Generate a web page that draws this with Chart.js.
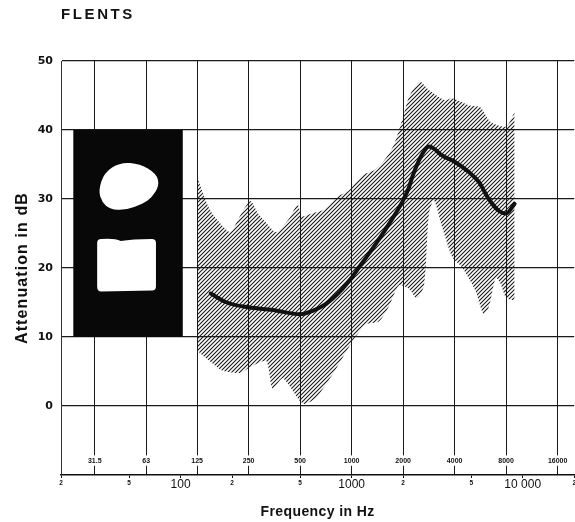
<!DOCTYPE html>
<html>
<head>
<meta charset="utf-8">
<script src="https://cdn.jsdelivr.net/npm/chart.js@4/dist/chart.umd.min.js"></script>
<style>
html,body{margin:0;padding:0;background:#fff;}
#wrap{width:575px;height:522px;}
</style>
</head>
<body>
<div id="wrap"><canvas id="c" width="575" height="522"></canvas></div>
<script>
// ---- texts ----
const chartTitle = 'FLENTS';
const yTitle = 'Attenuation in dB';
const xTitle = 'Frequency in Hz';

// ---- axis ticks ----
const dbTicks = [0, 10, 20, 30, 40, 50];
const octaveHz = [31.5, 63, 125, 250, 500, 1000, 2000, 4000, 8000, 16000];
const octaveLabels = ['31.5', '63', '125', '250', '500', '1000', '2000', '4000', '8000', '16000'];
const freqTickHz = [20, 50, 100, 200, 500, 1000, 2000, 5000, 10000, 20000];
const freqTickLabels = ['2', '5', '100', '2', '5', '1000', '2', '5', '10 000', '2'];
const freqBigTicks = [100, 1000, 10000];

// ---- mean attenuation curve ----
const curveHz = [150, 186, 250, 346, 500, 592, 709, 847, 1000, 1158, 1385, 1655, 2000, 2165, 2263, 2476, 2700, 2830, 3030, 3380, 4000, 4840, 5530, 6330, 7240, 8000, 8960];
const curveDb = [16.3, 15.0, 14.3, 13.9, 13.3, 13.8, 14.8, 16.5, 18.6, 20.8, 23.5, 26.4, 29.8, 31.7, 33.2, 35.6, 37.2, 37.6, 37.3, 36.3, 35.4, 33.9, 32.5, 30.0, 28.3, 27.9, 29.3];

// ---- spread band (upper / lower boundary) ----
const upperHz = [125, 148, 177, 196, 222, 256, 282, 318, 363, 432, 483, 510, 567, 695, 817, 960, 1150, 1360, 1540, 1760, 2000, 2165, 2500, 2830, 3520, 3860, 4830, 5650, 6470, 8000, 8970];
const upperDb = [33.2, 28.5, 26.0, 25.2, 27.5, 29.7, 28.0, 26.5, 25.2, 27.2, 29.2, 27.5, 27.8, 28.5, 30.3, 31.2, 33.4, 34.2, 35.5, 37.8, 41.9, 44.8, 47.0, 45.8, 44.3, 44.6, 43.6, 43.3, 41.2, 40.5, 42.6];
const lowerHz = [125, 148, 177, 222, 250, 282, 318, 346, 396, 500, 534, 620, 775, 885, 1012, 1212, 1448, 1655, 1893, 2165, 2400, 2650, 2830, 3030, 3384, 3870, 4420, 5290, 5900, 6330, 6950, 7400, 8000, 8970];
const lowerDb = [8.0, 6.5, 5.1, 4.8, 5.5, 6.2, 6.5, 2.5, 4.0, 0.7, 0.3, 1.2, 4.6, 7.0, 9.4, 11.8, 12.3, 14.5, 17.5, 17.0, 15.6, 17.5, 27.9, 29.8, 25.9, 21.6, 20.1, 16.7, 13.3, 14.3, 18.6, 17.8, 15.7, 15.3];

function zip(xs, ys) { return xs.map((x, i) => ({ x: x, y: ys[i] })); }

const canvas = document.getElementById('c');
const mainCtx = canvas.getContext('2d');

function makeHatch() {
  const t = document.createElement('canvas');
  t.width = 4; t.height = 4;
  const g = t.getContext('2d');
  g.strokeStyle = '#1a1a1a';
  g.lineWidth = 1.1;
  g.beginPath();
  g.moveTo(-1, 5); g.lineTo(5, -1);
  g.moveTo(-1, 1); g.lineTo(1, -1);
  g.moveTo(3, 5); g.lineTo(5, 3);
  g.stroke();
  return mainCtx.createPattern(t, 'repeat');
}

// letter spacing for the few spaced-out titles
const spacingByText = { 'FLENTS': '2.6px', 'Attenuation in dB': '1.1px', 'Frequency in Hz': '0.4px' };
const letterSpacingPlugin = {
  id: 'letterSpacing',
  beforeDraw(chart) {
    const ctx = chart.ctx;
    if (ctx.__spaced) return;
    const orig = ctx.fillText;
    ctx.fillText = function () {
      const sp = spacingByText[arguments[0]];
      if (sp && ('letterSpacing' in ctx)) {
        const prev = ctx.letterSpacing;
        ctx.letterSpacing = sp;
        orig.apply(ctx, arguments);
        ctx.letterSpacing = prev;
      } else {
        orig.apply(ctx, arguments);
      }
    };
    ctx.__spaced = true;
  }
};

// inset photo (black card with two white ear-plug shapes)
const INSET = { hzFrom: 23.6, hzTo: 103, dbTop: 40, dbBottom: 10 };
const blobShape = [[0.23, 0.292], [0.282, 0.206], [0.427, 0.156], [0.609, 0.163], [0.761, 0.212], [0.785, 0.268], [0.718, 0.325], [0.639, 0.356], [0.473, 0.388], [0.336, 0.383], [0.261, 0.348]];
const insetPlugin = {
  id: 'inset',
  beforeDatasetsDraw(chart) {
    const ctx = chart.ctx;
    const xs = chart.scales.x, ys = chart.scales.y;
    const l = xs.getPixelForValue(INSET.hzFrom), r = xs.getPixelForValue(INSET.hzTo);
    const t = ys.getPixelForValue(INSET.dbTop), b = ys.getPixelForValue(INSET.dbBottom);
    const w = r - l, h = b - t;
    ctx.save();
    ctx.fillStyle = '#080808';
    ctx.fillRect(l, t, w, h);
    ctx.fillStyle = '#ffffff';
    const pts = blobShape.map(p => [l + p[0] * w, t + p[1] * h]);
    const n = pts.length;
    const mid = (a, c) => [(a[0] + c[0]) / 2, (a[1] + c[1]) / 2];
    ctx.beginPath();
    let m = mid(pts[n - 1], pts[0]);
    ctx.moveTo(m[0], m[1]);
    for (let i = 0; i < n; i++) {
      const p = pts[i], q = mid(p, pts[(i + 1) % n]);
      ctx.quadraticCurveTo(p[0], p[1], q[0], q[1]);
    }
    ctx.closePath();
    ctx.fill();
    // rounded block
    const rx = l + 0.218 * w, ry = t + 0.526 * h, rw = (0.755 - 0.218) * w, rh = (0.775 - 0.526) * h;
    ctx.beginPath();
    const rad = 4;
    ctx.moveTo(rx + rad, ry);
    ctx.quadraticCurveTo(rx + rw * 0.3, ry - 1, rx + rw * 0.4, ry + 2);
    ctx.quadraticCurveTo(rx + rw * 0.6, ry, rx + rw - rad, ry);
    ctx.quadraticCurveTo(rx + rw, ry, rx + rw, ry + rad);
    ctx.lineTo(rx + rw, ry + rh - rad);
    ctx.quadraticCurveTo(rx + rw, ry + rh, rx + rw - rad, ry + rh);
    ctx.lineTo(rx + rad, ry + rh + 1);
    ctx.quadraticCurveTo(rx, ry + rh + 1, rx, ry + rh - rad);
    ctx.lineTo(rx, ry + rad);
    ctx.quadraticCurveTo(rx, ry, rx + rad, ry);
    ctx.closePath();
    ctx.fill();
    ctx.restore();
  }
};

const INK = '#111111';
const tickFamily = "'Liberation Sans', Arial, sans-serif";

new Chart(canvas, {
  type: 'line',
  data: {
    datasets: [
      {
        label: 'Mean attenuation',
        data: zip(curveHz, curveDb),
        borderColor: INK,
        borderWidth: 4,
        pointRadius: 0,
        fill: false,
        cubicInterpolationMode: 'monotone',
        borderCapStyle: 'round',
        borderJoinStyle: 'round',
        order: 0
      },
      {
        label: 'Lower',
        data: zip(lowerHz, lowerDb),
        borderColor: 'rgba(0,0,0,0)',
        borderWidth: 0,
        pointRadius: 0,
        fill: false,
        tension: 0.25,
        order: 1
      },
      {
        label: 'Upper',
        data: zip(upperHz, upperDb),
        borderColor: 'rgba(0,0,0,0)',
        borderWidth: 0,
        pointRadius: 0,
        backgroundColor: makeHatch(),
        fill: 1,
        tension: 0.25,
        order: 2
      }
    ]
  },
  options: {
    responsive: false,
    animation: false,
    devicePixelRatio: 1,
    events: [],
    layout: { padding: { left: 0, right: -1, top: 0, bottom: 0 } },
    plugins: {
      legend: { display: false },
      tooltip: { enabled: false },
      title: {
        display: true,
        text: chartTitle,
        position: 'top',
        align: 'start',
        fullSize: false,
        color: INK,
        font: { family: tickFamily, size: 15, weight: 'bold' },
        padding: { top: 5.7, bottom: 37.3 }
      }
    },
    scales: {
      x: {
        type: 'logarithmic',
        position: 'bottom',
        min: 20,
        max: 20000,
        afterBuildTicks: s => { s.ticks = freqTickHz.map(v => ({ value: v })); },
        grid: { display: true, drawOnChartArea: false, drawTicks: true, tickLength: 3, color: INK, tickColor: INK, lineWidth: 1 },
        border: { display: true, color: INK, width: 1.5 },
        ticks: {
          autoSkip: false, maxRotation: 0, minRotation: 0, padding: -1, color: INK,
          callback: (v, i) => freqTickLabels[i],
          font: c => (c.tick && freqBigTicks.includes(c.tick.value))
            ? { family: tickFamily, size: 12, weight: 'normal', lineHeight: 1.2 }
            : { family: tickFamily, size: 6.5, weight: 'bold', lineHeight: 2 }
        },
        title: {
          display: true, text: xTitle, color: INK,
          font: { family: tickFamily, size: 14, weight: 'bold' },
          padding: { top: 13.2, bottom: 1.6 }
        }
      },
      x2: {
        type: 'logarithmic',
        axis: 'x',
        position: { y: -7.3 },
        min: 20,
        max: 20000,
        afterBuildTicks: s => { s.ticks = octaveHz.map(v => ({ value: v })); },
        grid: { display: true, drawOnChartArea: true, drawTicks: false, tickLength: 0, color: '#1a1a1a', lineWidth: 1 },
        border: { display: false },
        ticks: {
          autoSkip: false, maxRotation: 0, minRotation: 0, padding: 0, color: INK,
          callback: (v, i) => octaveLabels[i],
          font: { family: tickFamily, size: 7, weight: 'bold' },
          showLabelBackdrop: true, backdropColor: '#ffffff', backdropPadding: 1
        }
      },
      y: {
        type: 'linear',
        position: 'left',
        min: -10,
        max: 50,
        afterBuildTicks: s => { s.ticks = dbTicks.map(v => ({ value: v })); },
        grid: { color: '#1a1a1a', lineWidth: 1.2, drawTicks: false, tickLength: 0 },
        border: { display: true, color: '#333333', width: 1 },
        ticks: {
          padding: 8, color: INK,
          font: { family: "'DejaVu Sans', sans-serif", size: 11, weight: 'bold' },
          callback: v => String(v)
        },
        title: {
          display: true, text: yTitle, color: INK,
          font: { family: tickFamily, size: 16, weight: 'bold' },
          padding: { top: 13.4, bottom: -2.9 }
        }
      }
    }
  },
  plugins: [letterSpacingPlugin, insetPlugin]
});
</script>
</body>
</html>
